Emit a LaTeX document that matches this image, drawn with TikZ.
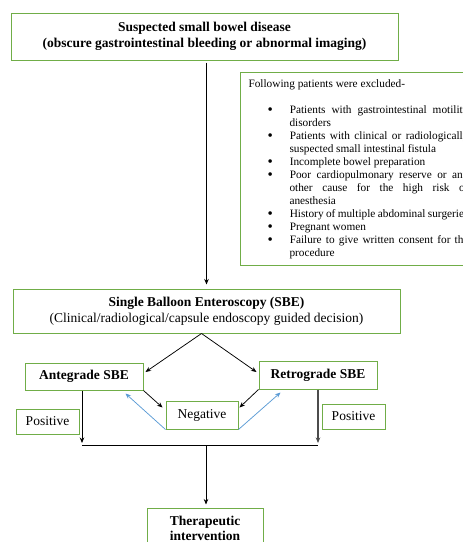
\documentclass[tikz,border=0pt]{standalone}
\usepackage{fontspec}
\setmainfont{Liberation Serif}
\usepackage{xcolor}
\usepackage{tikz}
\usetikzlibrary{shapes.geometric, arrows.meta}
\usetikzlibrary{positioning}
\definecolor{boxgreen}{RGB}{112,173,71}
\definecolor{linkblue}{RGB}{91,155,213}

\begin{document}
\begin{tikzpicture}[x=1pt, y=-1pt, every node/.style={font=\fontsize{13.5}{15.6}\selectfont}]
\tikzstyle{mainbox} = [rectangle, draw=boxgreen, line width=1pt, inner sep=0pt, align=center]
\tikzstyle{listbox} = [rectangle, draw=boxgreen, line width=1pt, anchor=north west, text width=234pt, inner xsep=8pt, inner ysep=7pt, align=justify, font=\fontsize{11.3}{13}\selectfont]
\tikzstyle{arrow} = [line width=0.75pt, -{Stealth[length=5.5pt,width=4.5pt]}]
\tikzstyle{backarrow} = [arrow, draw=linkblue]
\tikzstyle{line} = [line width=0.75pt]

\useasboundingbox (0,0) rectangle (463,542);
\clip (0,0) rectangle (463,542);

% Nodes
\node (disease) [mainbox, minimum width=387pt, minimum height=47pt] at (204.5,36.5) {\textbf{Suspected small bowel disease}\\\textbf{(obscure gastrointestinal bleeding or abnormal imaging)}};
\node (excluded) [listbox] at (240,72) {Following patients were excluded-\par\vspace{13pt}
\begin{list}{\raisebox{-0.8pt}{\fontsize{15}{13}\selectfont\textbullet}}{\setlength{\leftmargin}{41pt}\setlength{\rightmargin}{14pt}\setlength{\labelsep}{17pt}\setlength{\labelwidth}{5pt}\setlength{\itemsep}{0pt}\setlength{\parsep}{0pt}\setlength{\topsep}{0pt}\setlength{\partopsep}{0pt}}
\item Patients with gastrointestinal motility\linebreak disorders
\item Patients with clinical or radiologically\linebreak suspected small intestinal fistula
\item Incomplete bowel preparation
\item Poor cardiopulmonary reserve or any\linebreak other cause for the high risk of\linebreak anesthesia
\item History~of~multiple~abdominal~surgeries
\item Pregnant women
\item Failure to give written consent for the\linebreak procedure
\end{list}};
\node (sbe) [mainbox, minimum width=387pt, minimum height=44pt, below=228pt of disease, xshift=2pt] {\textbf{Single Balloon Enteroscopy (SBE)}\\(Clinical/radiological/capsule endoscopy guided decision)};
\node (antegrade) [mainbox, minimum width=118pt, minimum height=27pt, below right=29pt and 12pt of sbe.south west] {\textbf{Antegrade SBE}};
\node (retrograde) [mainbox, minimum width=118pt, minimum height=28pt, below left=27pt and 23pt of sbe.south east] {\textbf{Retrograde SBE}};
\node (negative) [mainbox, minimum width=72pt, minimum height=28pt, below=67pt of sbe.south, xshift=-4.5pt] {Negative};
\node (posleft) [mainbox, minimum width=63pt, minimum height=25pt, below right=18pt and -9pt of antegrade.south west] {Positive};
\node (posright) [mainbox, minimum width=63pt, minimum height=25pt, below right=14pt and 63pt of retrograde.south west] {Positive};
\node (therapy) [mainbox, minimum width=116pt, minimum height=41pt, below=174pt of sbe.south, xshift=-1.5pt] {\textbf{Therapeutic}\\\textbf{intervention}};
\coordinate (joinleft) at (82,445);
\coordinate (joinright) at (318,445);
\coordinate (joinmid) at (206,445);

% Arrows
\draw [arrow, shorten <=2pt, shorten >=4pt] (disease.south -| sbe.north) -- (sbe.north);
\draw [arrow] ([xshift=-5pt]sbe.south) -- ([shift={(2pt,4.5pt)}]antegrade.east);
\draw [arrow] ([xshift=-5pt]sbe.south) -- ([shift={(-2pt,3pt)}]retrograde.west);
\draw [arrow] (antegrade.south east) -- ([shift={(-3pt,-7pt)}]negative.north west);
\draw [arrow] (retrograde.south west) -- ([shift={(1pt,-7pt)}]negative.north east);
\draw [backarrow] (negative.south west) -- ([shift={(-18pt,-3pt)}]antegrade.south east);
\draw [backarrow] (negative.south east) -- ([shift={(22pt,-3pt)}]retrograde.south west);
\draw [arrow, shorten >=2pt] ([xshift=-2pt]antegrade.south) -- (joinleft);
\draw [arrow, shorten >=2pt, line width=1.1pt, draw=black!70] (retrograde.south) -- (joinright);
\draw [line] (joinleft) -- (joinright);
\draw [arrow, shorten >=3pt] (joinmid) -- (joinmid |- therapy.north);

\end{tikzpicture}
\end{document}
